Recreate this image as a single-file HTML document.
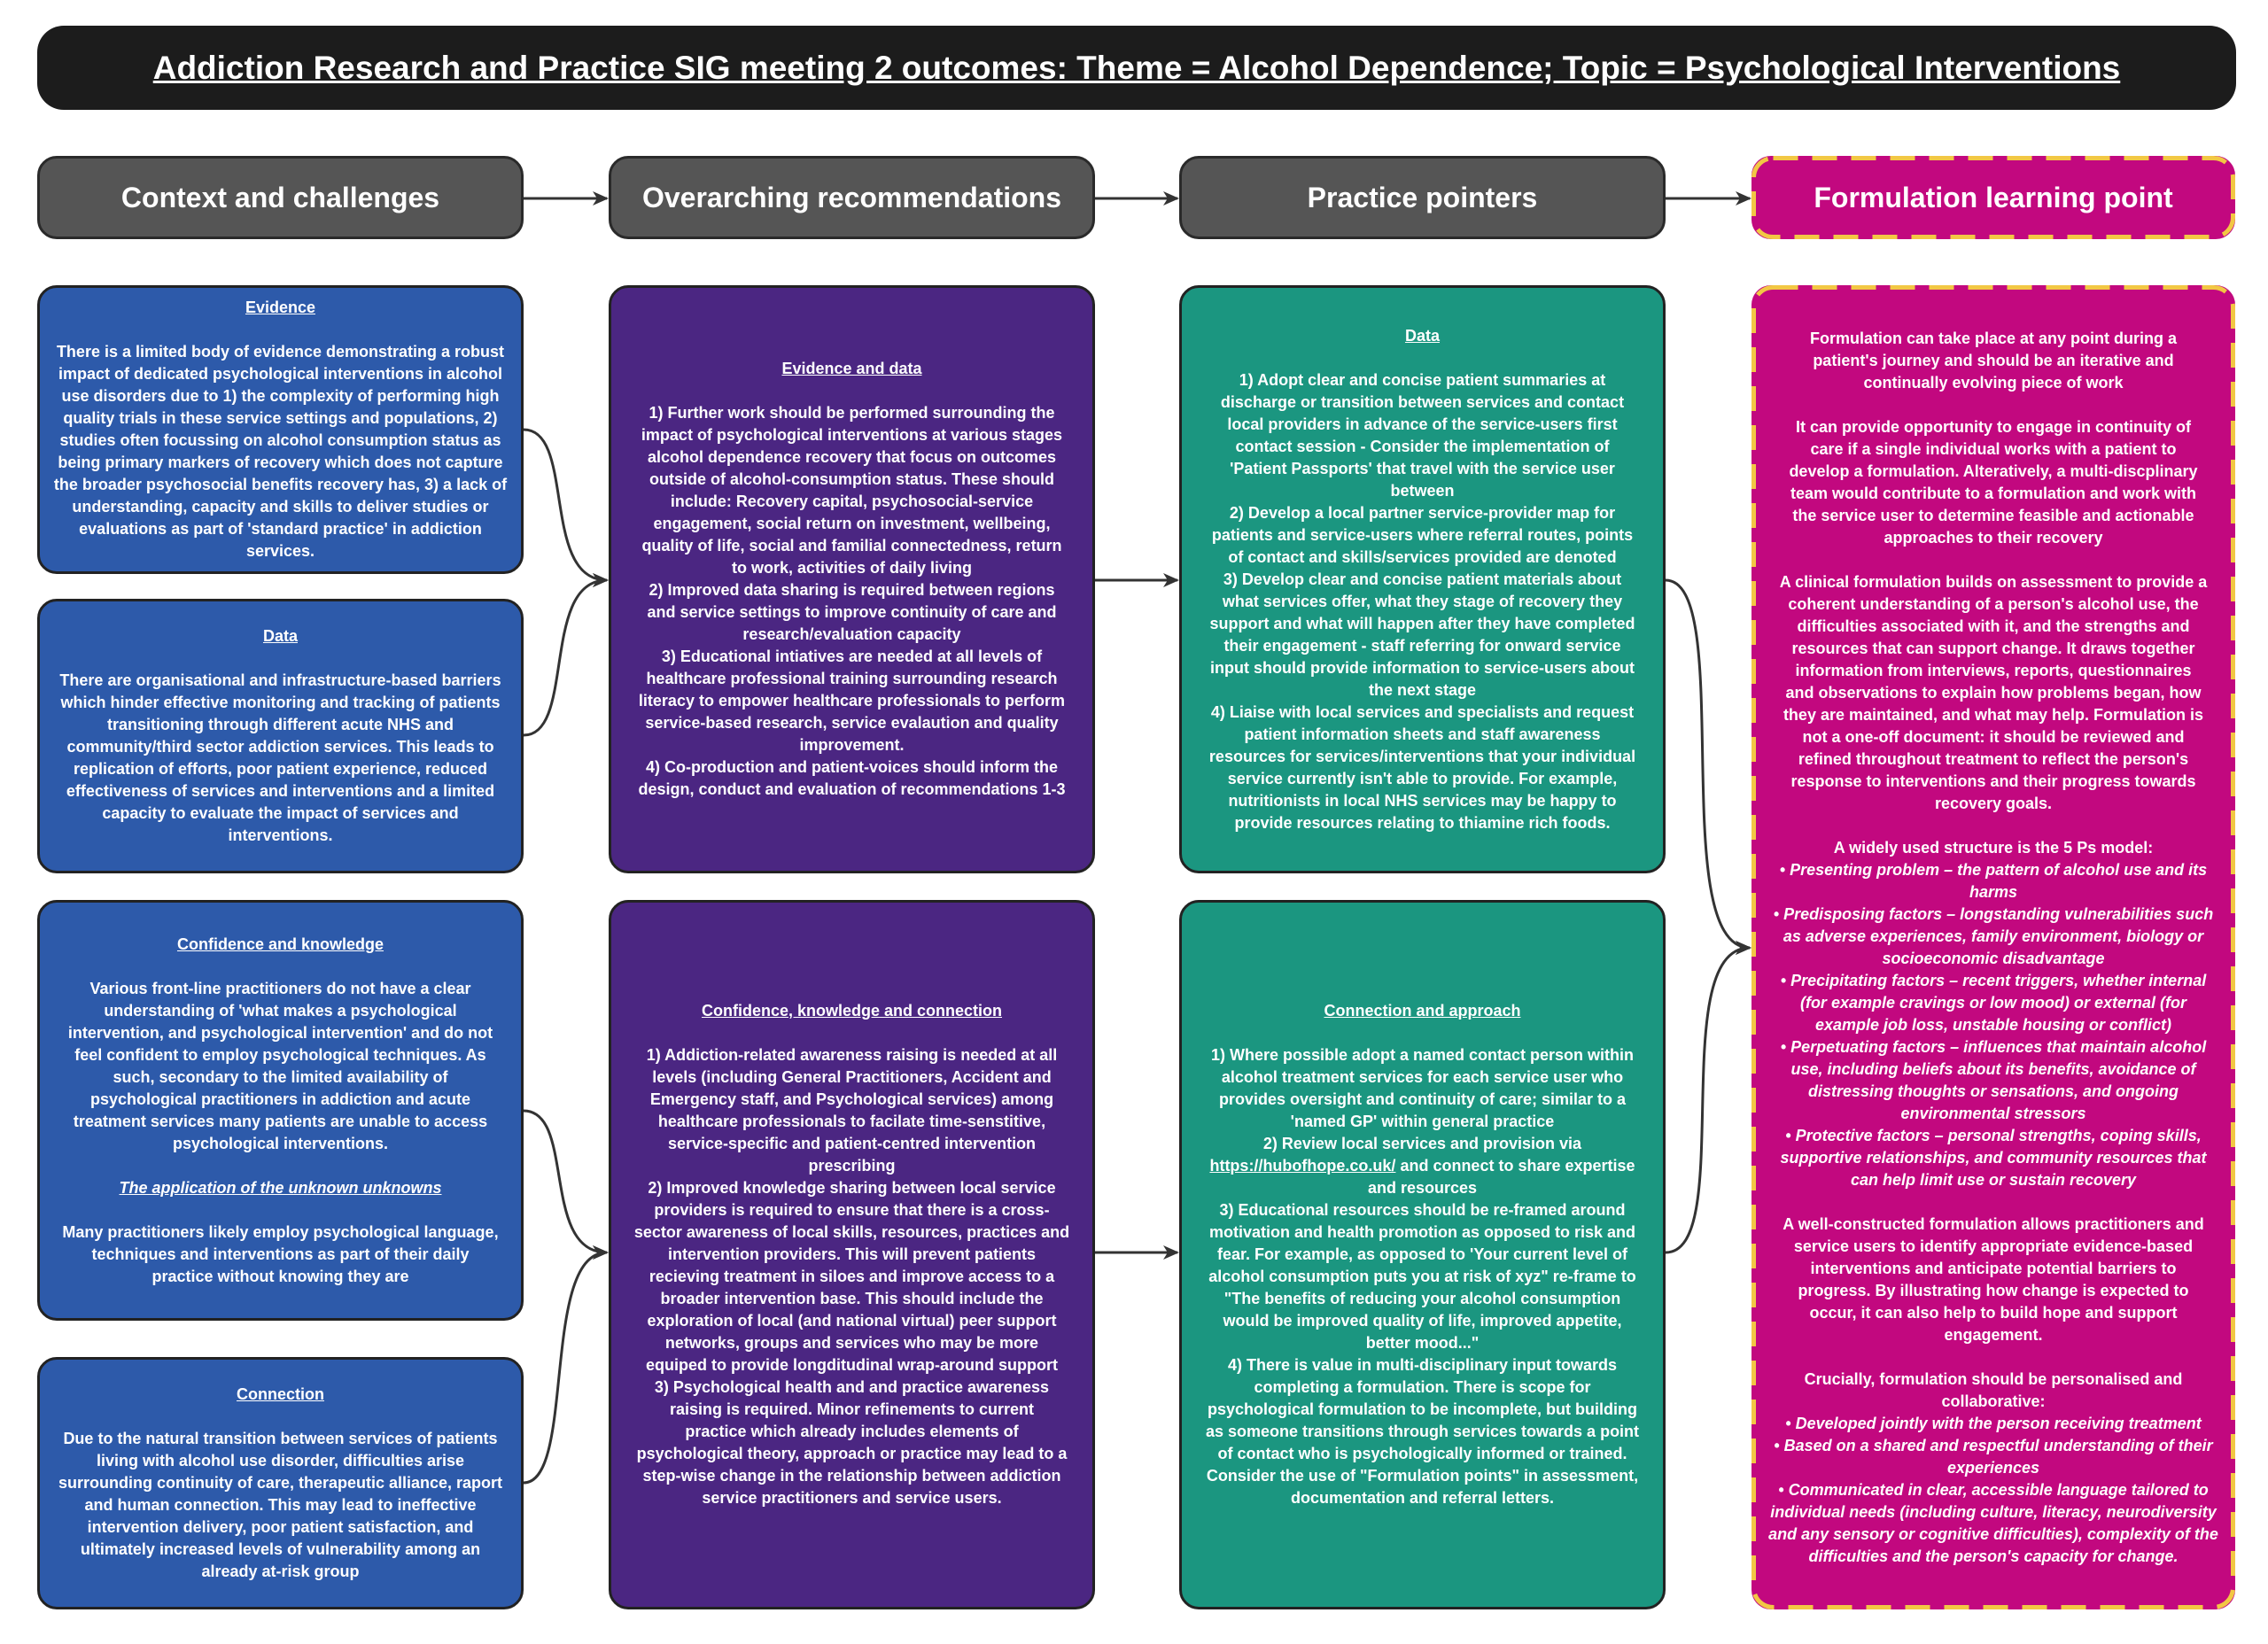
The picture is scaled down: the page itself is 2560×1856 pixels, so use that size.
<!DOCTYPE html>
<html><head><meta charset="utf-8"><style>
*{margin:0;padding:0;box-sizing:border-box}
body{width:2560px;height:1856px;background:#fff;position:relative;overflow:hidden;font-family:"Liberation Sans",sans-serif;font-weight:bold;color:#fff}
.t{position:absolute;left:42px;top:29px;width:2482px;height:95px;background:#1c1c1c;border-radius:30px;display:flex;align-items:center;justify-content:center;font-size:37px;text-decoration:underline}
.h{position:absolute;top:176px;height:94px;width:549px;background:#555;border:3px solid #2a2a2a;border-radius:22px;display:flex;align-items:center;justify-content:center;font-size:32px}
.b{position:absolute;border:3px solid #222;border-radius:22px;display:flex;flex-direction:column;align-items:center;justify-content:center;text-align:center;font-size:18px;line-height:25px;white-space:nowrap}
.bl{background:#2d5aaa}.pu{background:#4b2682}.te{background:#1b9680}
.mg{background:#c2087f;border:none}
u{text-decoration:underline}
.c1{left:42px;width:549px}.c2{left:687px;width:549px}.c3{left:1331px;width:549px}.c4{left:1977px;width:546px}
</style></head><body>
<div class="t">Addiction Research and Practice SIG meeting 2 outcomes: Theme = Alcohol Dependence; Topic = Psychological Interventions</div>
<div class="h c1">Context and challenges</div>
<div class="h c2">Overarching recommendations</div>
<div class="h c3">Practice pointers</div>
<div class="h c4 mg">Formulation learning point</div>

<div class="b bl c1" style="top:322px;height:326px"><div><u>Evidence</u><br><br>There is a limited body of evidence demonstrating a robust<br>impact of dedicated psychological interventions in alcohol<br>use disorders due to 1) the complexity of performing high<br>quality trials in these service settings and populations, 2)<br>studies often focussing on alcohol consumption status as<br>being primary markers of recovery which does not capture<br>the broader psychosocial benefits recovery has, 3) a lack of<br>understanding, capacity and skills to deliver studies or<br>evaluations as part of 'standard practice' in addiction<br>services.</div></div>

<div class="b bl c1" style="top:676px;height:310px"><div><u>Data</u><br><br>There are organisational and infrastructure-based barriers<br>which hinder effective monitoring and tracking of patients<br>transitioning through different acute NHS and<br>community/third sector addiction services. This leads to<br>replication of efforts, poor patient experience, reduced<br>effectiveness of services and interventions and a limited<br>capacity to evaluate the impact of services and<br>interventions.</div></div>

<div class="b bl c1" style="top:1016px;height:475px"><div><u>Confidence and knowledge</u><br><br>Various front-line practitioners do not have a clear<br>understanding of 'what makes a psychological<br>intervention, and psychological intervention' and do not<br>feel confident to employ psychological techniques. As<br>such, secondary to the limited availability of<br>psychological practitioners in addiction and acute<br>treatment services many patients are unable to access<br>psychological interventions.<br><br><i><u>The application of the unknown unknowns</u></i><br><br>Many practitioners likely employ psychological language,<br>techniques and interventions as part of their daily<br>practice without knowing they are</div></div>

<div class="b bl c1" style="top:1532px;height:285px"><div><u>Connection</u><br><br>Due to the natural transition between services of patients<br>living with alcohol use disorder, difficulties arise<br>surrounding continuity of care, therapeutic alliance, raport<br>and human connection. This may lead to ineffective<br>intervention delivery, poor patient satisfaction, and<br>ultimately increased levels of vulnerability among an<br>already at-risk group</div></div>

<div class="b pu c2" style="top:322px;height:664px"><div><u>Evidence and data</u><br><br>1) Further work should be performed surrounding the<br>impact of psychological interventions at various stages<br>alcohol dependence recovery that focus on outcomes<br>outside of alcohol-consumption status. These should<br>include: Recovery capital, psychosocial-service<br>engagement, social return on investment, wellbeing,<br>quality of life, social and familial connectedness, return<br>to work, activities of daily living<br>2) Improved data sharing is required between regions<br>and service settings to improve continuity of care and<br>research/evaluation capacity<br>3) Educational intiatives are needed at all levels of<br>healthcare professional training surrounding research<br>literacy to empower healthcare professionals to perform<br>service-based research, service evalaution and quality<br>improvement.<br>4) Co-production and patient-voices should inform the<br>design, conduct and evaluation of recommendations 1-3</div></div>

<div class="b pu c2" style="top:1016px;height:801px"><div><u>Confidence, knowledge and connection</u><br><br>1) Addiction-related awareness raising is needed at all<br>levels (including General Practitioners, Accident and<br>Emergency staff, and Psychological services) among<br>healthcare professionals to facilate time-senstitive,<br>service-specific and patient-centred intervention<br>prescribing<br>2) Improved knowledge sharing between local service<br>providers is required to ensure that there is a cross-<br>sector awareness of local skills, resources, practices and<br>intervention providers. This will prevent patients<br>recieving treatment in siloes and improve access to a<br>broader intervention base. This should include the<br>exploration of local (and national virtual) peer support<br>networks, groups and services who may be more<br>equiped to provide longditudinal wrap-around support<br>3) Psychological health and and practice awareness<br>raising is required. Minor refinements to current<br>practice which already includes elements of<br>psychological theory, approach or practice may lead to a<br>step-wise change in the relationship between addiction<br>service practitioners and service users.</div></div>

<div class="b te c3" style="top:322px;height:664px"><div><u>Data</u><br><br>1) Adopt clear and concise patient summaries at<br>discharge or transition between services and contact<br>local providers in advance of the service-users first<br>contact session - Consider the implementation of<br>'Patient Passports' that travel with the service user<br>between<br>2) Develop a local partner service-provider map for<br>patients and service-users where referral routes, points<br>of contact and skills/services provided are denoted<br>3) Develop clear and concise patient materials about<br>what services offer, what they stage of recovery they<br>support and what will happen after they have completed<br>their engagement - staff referring for onward service<br>input should provide information to service-users about<br>the next stage<br>4) Liaise with local services and specialists and request<br>patient information sheets and staff awareness<br>resources for services/interventions that your individual<br>service currently isn't able to provide. For example,<br>nutritionists in local NHS services may be happy to<br>provide resources relating to thiamine rich foods.</div></div>

<div class="b te c3" style="top:1016px;height:801px"><div><u>Connection and approach</u><br><br>1) Where possible adopt a named contact person within<br>alcohol treatment services for each service user who<br>provides oversight and continuity of care; similar to a<br>'named GP' within general practice<br>2) Review local services and provision via<br><u>https://hubofhope.co.uk/</u> and connect to share expertise<br>and resources<br>3) Educational resources should be re-framed around<br>motivation and health promotion as opposed to risk and<br>fear. For example, as opposed to 'Your current level of<br>alcohol consumption puts you at risk of xyz" re-frame to<br>"The benefits of reducing your alcohol consumption<br>would be improved quality of life, improved appetite,<br>better mood..."<br>4) There is value in multi-disciplinary input towards<br>completing a formulation. There is scope for<br>psychological formulation to be incomplete, but building<br>as someone transitions through services towards a point<br>of contact who is psychologically informed or trained.<br>Consider the use of "Formulation points" in assessment,<br>documentation and referral letters.</div></div>

<div class="b mg c4" style="top:322px;height:1495px"><div>Formulation can take place at any point during a<br>patient's journey and should be an iterative and<br>continually evolving piece of work<br><br>It can provide opportunity to engage in continuity of<br>care if a single individual works with a patient to<br>develop a formulation. Alteratively, a multi-discplinary<br>team would contribute to a formulation and work with<br>the service user to determine feasible and actionable<br>approaches to their recovery<br><br>A clinical formulation builds on assessment to provide a<br>coherent understanding of a person's alcohol use, the<br>difficulties associated with it, and the strengths and<br>resources that can support change. It draws together<br>information from interviews, reports, questionnaires<br>and observations to explain how problems began, how<br>they are maintained, and what may help. Formulation is<br>not a one-off document: it should be reviewed and<br>refined throughout treatment to reflect the person's<br>response to interventions and their progress towards<br>recovery goals.<br><br>A widely used structure is the 5 Ps model:<br><i>• Presenting problem – the pattern of alcohol use and its<br>harms<br>• Predisposing factors – longstanding vulnerabilities such<br>as adverse experiences, family environment, biology or<br>socioeconomic disadvantage<br>• Precipitating factors – recent triggers, whether internal<br>(for example cravings or low mood) or external (for<br>example job loss, unstable housing or conflict)<br>• Perpetuating factors – influences that maintain alcohol<br>use, including beliefs about its benefits, avoidance of<br>distressing thoughts or sensations, and ongoing<br>environmental stressors<br>• Protective factors – personal strengths, coping skills,<br>supportive relationships, and community resources that<br>can help limit use or sustain recovery</i><br><br>A well-constructed formulation allows practitioners and<br>service users to identify appropriate evidence-based<br>interventions and anticipate potential barriers to<br>progress. By illustrating how change is expected to<br>occur, it can also help to build hope and support<br>engagement.<br><br>Crucially, formulation should be personalised and<br>collaborative:<br><i>• Developed jointly with the person receiving treatment<br>• Based on a shared and respectful understanding of their<br>experiences<br>• Communicated in clear, accessible language tailored to<br>individual needs (including culture, literacy, neurodiversity<br>and any sensory or cognitive difficulties), complexity of the<br>difficulties and the person's capacity for change.</i></div></div>

<svg width="2560" height="1856" style="position:absolute;left:0;top:0" fill="none" stroke="#333" stroke-width="3">
<defs><marker id="m" markerWidth="18" markerHeight="16" refX="16" refY="8" orient="auto" markerUnits="userSpaceOnUse"><path d="M0,0 L18,8 L0,16 L5,8 Z" fill="#333" stroke="none"/></marker></defs>
<rect x="1979.5" y="178.5" width="541" height="89" rx="22" stroke="#f2c744" stroke-width="5" stroke-dasharray="28 16"/>
<rect x="1979.5" y="324.5" width="541" height="1490" rx="22" stroke="#f2c744" stroke-width="5" stroke-dasharray="28 16"/>
<path d="M591 224 H685" marker-end="url(#m)"/>
<path d="M1236 224 H1329" marker-end="url(#m)"/>
<path d="M1880 224 H1975" marker-end="url(#m)"/>
<path d="M591 485 C650 485,610 655,685 655" marker-end="url(#m)"/>
<path d="M591 830 C650 830,610 655,685 655" marker-end="url(#m)"/>
<path d="M591 1254 C650 1254,610 1414,685 1414" marker-end="url(#m)"/>
<path d="M591 1674 C650 1674,610 1414,685 1414" marker-end="url(#m)"/>
<path d="M1236 655 H1329" marker-end="url(#m)"/>
<path d="M1236 1414 H1329" marker-end="url(#m)"/>
<path d="M1880 655 C1960 655,1880 1070,1975 1070" marker-end="url(#m)"/>
<path d="M1880 1414 C1960 1414,1880 1070,1975 1070" marker-end="url(#m)"/>
</svg>
</body></html>
